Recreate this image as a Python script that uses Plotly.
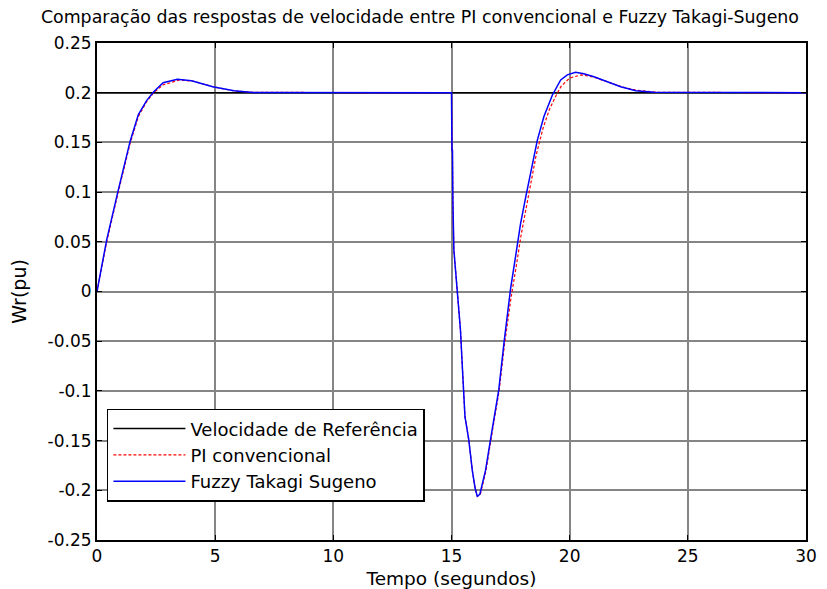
import plotly.graph_objects as go

# ---- data ----
t_ref = [0, 30]
y_ref = [0.2, 0.2]

t_pi = [0, 0.41, 0.9, 1.4, 1.75, 2.1, 2.4, 2.8, 3.5, 4.1, 4.9, 5.8, 6.7,
        15.0, 15.02, 15.04, 15.06, 15.1, 15.24, 15.38, 15.45, 15.52, 15.57,
        15.73, 15.88, 16.0, 16.1, 16.22, 16.46, 16.74, 17.02, 17.24, 17.52,
        17.73, 17.94, 18.16, 18.37, 18.58, 18.87, 19.14, 19.42, 19.64, 20.0,
        20.5, 21.0, 21.6, 22.2, 22.8, 23.7, 30]
y_pi = [0, 0.05, 0.1, 0.149, 0.176, 0.191, 0.2, 0.208, 0.2128, 0.2115,
        0.206, 0.2018, 0.2003,
        0.2, 0.142, 0.142, 0.09, 0.042, 0.0015, -0.039, -0.072, -0.101,
        -0.126, -0.149, -0.18, -0.198, -0.206, -0.204, -0.18, -0.139, -0.099,
        -0.054, -0.006, 0.024, 0.056, 0.084, 0.11, 0.137, 0.164, 0.183,
        0.197, 0.2065, 0.2148, 0.218, 0.2158, 0.211, 0.206, 0.2025, 0.2004, 0.2]

t_fuzzy = [0, 0.41, 0.9, 1.4, 1.75, 2.1, 2.4, 2.8, 3.4, 4.0, 4.9, 5.8, 6.6,
           15.0, 15.02, 15.04, 15.06, 15.1, 15.24, 15.38, 15.45, 15.52, 15.57,
           15.73, 15.88, 16.0, 16.09, 16.2, 16.44, 16.72, 17.0, 17.22, 17.5,
           17.71, 17.92, 18.14, 18.35, 18.63, 18.91, 19.27, 19.62, 19.9, 20.25,
           20.6, 21.03, 21.6, 22.16, 22.8, 23.57, 30]
y_fuzzy = [0, 0.052, 0.102, 0.151, 0.178, 0.192, 0.201, 0.21, 0.2135, 0.212,
           0.206, 0.202, 0.2003,
           0.2, 0.142, 0.142, 0.09, 0.042, 0.0015, -0.039, -0.072, -0.101,
           -0.126, -0.149, -0.18, -0.198, -0.206, -0.204, -0.18, -0.139, -0.099,
           -0.052, 0.003, 0.035, 0.068, 0.095, 0.121, 0.152, 0.176, 0.1977,
           0.2128, 0.218, 0.2205, 0.219, 0.216, 0.211, 0.206, 0.202, 0.2004, 0.2]

x_ticks = [0, 5, 10, 15, 20, 25, 30]
x_ticktext = ["0", "5", "10", "15", "20", "25", "30"]
y_ticks = [0.25, 0.2, 0.15, 0.1, 0.05, 0, -0.05, -0.1, -0.15, -0.2, -0.25]
y_ticktext = ["0.25", "0.2", "0.15", "0.1", "0.05", "0", "-0.05", "-0.1",
              "-0.15", "-0.2", "-0.25"]

names = ["Velocidade de Referência", "PI convencional", "Fuzzy Takagi Sugeno"]
title = "Comparação das respostas de velocidade entre PI convencional e Fuzzy Takagi-Sugeno"
xlabel = "Tempo (segundos)"
ylabel = "Wr(pu)"

FONT = "DejaVu Sans, Verdana, sans-serif"

fig = go.Figure()
fig.add_trace(go.Scatter(x=t_ref, y=y_ref, mode="lines", name=names[0],
                         line=dict(color="#000000", width=1.5)))
fig.add_trace(go.Scatter(x=t_pi, y=y_pi, mode="lines", name=names[1],
                         line=dict(color="#ff0000", width=1.2, dash="3px,2px")))
fig.add_trace(go.Scatter(x=t_fuzzy, y=y_fuzzy, mode="lines", name=names[2],
                         line=dict(color="#0000ff", width=1.5)))

axis_common = dict(
    showgrid=True, gridcolor="#858585", gridwidth=1.5,
    showline=True, linecolor="#000000", linewidth=2, mirror="ticks",
    ticks="inside", ticklen=5, tickcolor="#000000",
    zeroline=False, automargin=False,
    tickfont=dict(family=FONT, size=17, color="#000000"),
)

# page body has an 8px default margin; the figure is sized to fill the rest
fig.update_layout(
    width=819, height=581,
    margin=dict(l=89, r=21, t=35, b=49),
    paper_bgcolor="white", plot_bgcolor="white",
    font=dict(family=FONT, color="#000000"),
    title=dict(text=title, x=0.503, xref="container", y=0.985, yref="container",
               xanchor="center", yanchor="middle",
               font=dict(family=FONT, size=17.4, color="#000000")),
    xaxis=dict(range=[0, 30], tickvals=x_ticks, ticktext=x_ticktext,
               title=dict(text=xlabel, font=dict(family=FONT, size=18.5), standoff=7),
               **axis_common),
    yaxis=dict(range=[-0.25, 0.25], tickvals=y_ticks, ticktext=y_ticktext,
               title=dict(text=ylabel, font=dict(family=FONT, size=19), standoff=16),
               **axis_common),
    showlegend=True,
    legend=dict(x=0.014, y=0.264, xanchor="left", yanchor="top",
                bgcolor="white", bordercolor="#000000", borderwidth=1.5,
                font=dict(family=FONT, size=18, color="#000000"),
                tracegroupgap=0, itemwidth=72),
)

fig.write_html("out.html")
